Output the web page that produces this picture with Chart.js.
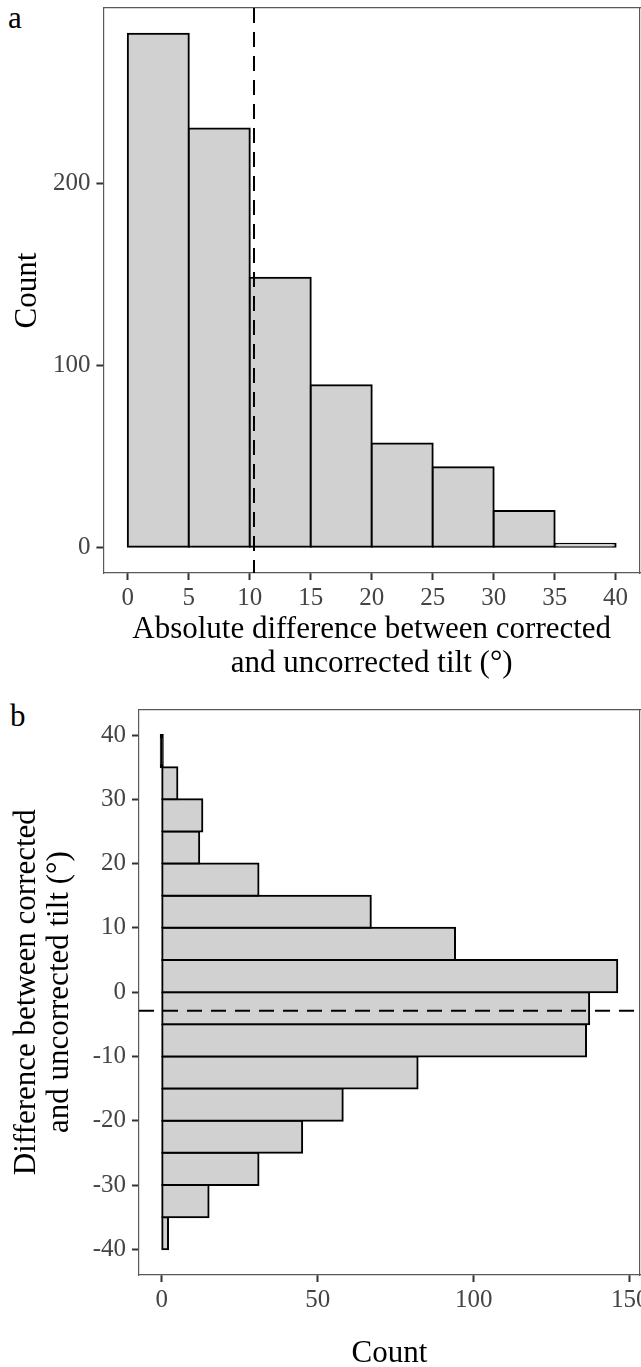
<!DOCTYPE html>
<html>
<head>
<meta charset="utf-8">
<script src="https://cdn.jsdelivr.net/npm/chart.js@4.4.1/dist/chart.umd.min.js"></script>
<style>
  html, body { margin:0; padding:0; background:#fff; width:641px; height:1367px; overflow:hidden; position:relative; }
  .wrap { position:absolute; left:0; }
  .lbl { position:absolute; font-family:"Liberation Serif","Times New Roman",serif; font-size:31px; color:#000; line-height:1; }
</style>
</head>
<body>
<div class="lbl" style="left:8px;top:2px;">a</div>
<div class="lbl" style="left:10px;top:700px;">b</div>
<div class="wrap" style="top:0;width:641px;height:680px;"><canvas id="ca" width="641" height="680"></canvas></div>
<div class="wrap" style="top:680px;width:700px;height:687px;"><canvas id="cb" width="700" height="687"></canvas></div>
<script>
// ---- Panel a data: absolute difference (5° bins) ----
const binCentersA = [2.5, 7.5, 12.5, 17.5, 22.5, 27.5, 32.5, 37.5];
const countsA     = [282, 230, 148, 89, 57, 44, 20, 2];
const meanA       = 10.35;
const xTicksA     = [0, 5, 10, 15, 20, 25, 30, 35, 40];
const yTicksA     = [0, 100, 200];
const xTitleA     = ['Absolute difference between corrected', 'and uncorrected tilt (°)'];
const yTitleA     = 'Count';

// ---- Panel b data: signed difference (5° bins, -40 .. 40) ----
const binCentersB = [-37.5, -32.5, -27.5, -22.5, -17.5, -12.5, -7.5, -2.5, 2.5, 7.5, 12.5, 17.5, 22.5, 27.5, 32.5, 37.5];
const countsB     = [2, 15, 31, 45, 58, 82, 136, 137, 146, 94, 67, 31, 12, 13, 5, 0];
const meanB       = -2.9;
const xTicksB     = [0, 50, 100, 150];
const yTicksB     = [-40, -30, -20, -10, 0, 10, 20, 30, 40];
const xTitleB     = 'Count';
const yTitleB     = ['Difference between corrected', 'and uncorrected tilt (°)'];

const FAM = '"Liberation Serif", "Times New Roman", serif';
const tickFont = { family: FAM, size: 25 };
const titleFont = { family: FAM, size: 31, lineHeight: 1.07 };
const TICKC = '#444444';
const FRAME = '#595959';
const BARFILL = '#d1d1d1';

function rng(arr) { const mn = Math.min(...arr), mx = Math.max(...arr); const e = (mx - mn) * 0.05; return [mn - e, mx + e]; }

function mainAxis(pos, lim, ticks, title, fitSize, titlePad, labelPad) {
  return {
    type: 'linear', position: pos, min: lim[0], max: lim[1], offset: false,
    afterBuildTicks: s => { s.ticks = ticks.map(v => ({ value: v })); },
    afterFit: s => {
      if (pos === 'left' || pos === 'right') s.width = fitSize; else s.height = fitSize;
      s.paddingTop = 0; s.paddingBottom = 0; s.paddingLeft = 0; s.paddingRight = 0;
    },
    ticks: { font: tickFont, color: TICKC, padding: labelPad, maxRotation: 0, autoSkip: false, callback: v => String(v) },
    grid: { display: true, offset: false, drawOnChartArea: false, drawTicks: true, tickLength: 7, tickWidth: 2, tickColor: '#333', color: '#333' },
    border: { display: true, color: FRAME, width: 1.2 },
    title: { display: true, text: title, font: titleFont, color: '#000', padding: titlePad }
  };
}
function frameAxis(pos, lim) {
  return {
    type: 'linear', position: pos, min: lim[0], max: lim[1], offset: false,
    afterFit: s => {
      if (pos === 'left' || pos === 'right') s.width = 0; else s.height = 0;
      s.paddingTop = 0; s.paddingBottom = 0; s.paddingLeft = 0; s.paddingRight = 0;
    },
    ticks: { display: false },
    grid: { display: false, drawTicks: false, offset: false },
    border: { display: true, color: FRAME, width: 1.2 }
  };
}
// zero-count bins are drawn by ggplot as a bare outline line
const fillFor = key => c => (c.raw && c.raw[key] === 0) ? '#000' : BARFILL;
const barStyle = { borderColor: '#000', borderWidth: 2, borderSkipped: false, inflateAmount: 1, minBarLength: 2, barPercentage: 1, categoryPercentage: 1 };

// ---------- Panel a ----------
const xLimA = [-2, 42];
const yLimA = rng([0, ...countsA]);
new Chart(document.getElementById('ca'), {
  data: {
    datasets: [
      { type: 'line', data: [{ x: meanA, y: yLimA[1] }, { x: meanA, y: yLimA[0] }], borderColor: '#000', borderWidth: 2, borderDash: [15, 9], pointRadius: 0, fill: false, xAxisID: 'x', yAxisID: 'y' },
      Object.assign({ type: 'bar', data: binCentersA.map((c, i) => ({ x: c, y: countsA[i] })), backgroundColor: fillFor('y'), xAxisID: 'x', yAxisID: 'y' }, barStyle)
    ]
  },
  options: {
    responsive: false, animation: false, devicePixelRatio: 1,
    layout: { padding: { left: 0, top: 8, right: 1, bottom: 0 } },
    plugins: { legend: { display: false }, tooltip: { enabled: false } },
    scales: {
      x: mainAxis('bottom', xLimA, xTicksA, xTitleA, 107, { top: 0, bottom: 0 }, 3),
      y: mainAxis('left', yLimA, yTicksA, yTitleA, 103.4, { top: 11, bottom: 0 }, 6),
      x2: frameAxis('top', xLimA),
      y2: frameAxis('right', yLimA)
    }
  }
});

// ---------- Panel b ----------
const xLimB = rng([0, ...countsB]);
const yLimB = [-44, 44];
new Chart(document.getElementById('cb'), {
  data: {
    datasets: [
      { type: 'line', data: [{ x: xLimB[0], y: meanB }, { x: xLimB[1], y: meanB }], borderColor: '#000', borderWidth: 2, borderDash: [15, 9], pointRadius: 0, fill: false, xAxisID: 'x', yAxisID: 'y' },
      Object.assign({ type: 'bar', indexAxis: 'y', data: binCentersB.map((c, i) => ({ y: c, x: countsB[i] })), backgroundColor: fillFor('x'), xAxisID: 'x', yAxisID: 'y' }, barStyle)
    ]
  },
  options: {
    responsive: false, animation: false, devicePixelRatio: 1,
    layout: { padding: { left: 0, top: 29.3, right: 60, bottom: 0 } },
    plugins: { legend: { display: false }, tooltip: { enabled: false } },
    scales: {
      x: mainAxis('bottom', xLimB, xTicksB, xTitleB, 92, { top: 0, bottom: -3 }, 3),
      y: mainAxis('left', yLimB, yTicksB, yTitleB, 139, { top: 10.5, bottom: 0 }, 6),
      x2: frameAxis('top', xLimB),
      y2: frameAxis('right', yLimB)
    }
  }
});
</script>
</body>
</html>
